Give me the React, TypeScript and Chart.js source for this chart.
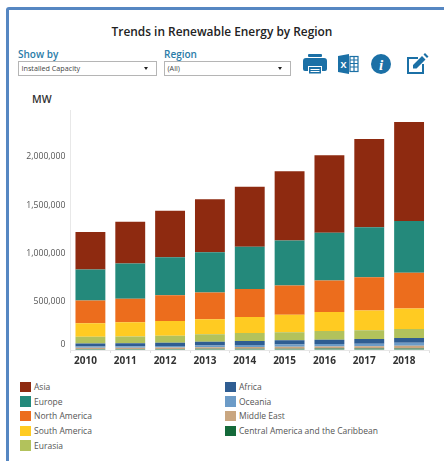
import React, { useEffect, useRef } from "react";
import { Chart, registerables } from "chart.js";

Chart.register(...registerables);

const years = ["2010", "2011", "2012", "2013", "2014", "2015", "2016", "2017", "2018"];
const asia = [390000, 432000, 480000, 550000, 623000, 716000, 802000, 914000, 1025000];
const europe = [321000, 365000, 396000, 417000, 438000, 466000, 494000, 518000, 538000];
const northAmerica = [234000, 245000, 266000, 276000, 290000, 303000, 328000, 346000, 368000];
const southAmerica = [142000, 148000, 152000, 155000, 166000, 183000, 197000, 203000, 214000];
const eurasia = [69000, 69000, 72000, 79000, 83000, 83000, 89000, 90000, 93000];
const africa = [30000, 31000, 34000, 38000, 41000, 43000, 46000, 49000, 50000];
const oceania = [14000, 15000, 16000, 18000, 20000, 23000, 25000, 28000, 31000];
const middleEast = [13000, 14000, 15000, 17000, 18000, 20000, 21000, 23000, 27000];
const centralAmerica = [10000, 10000, 11000, 12000, 13000, 14000, 15000, 15000, 16000];

const yMax = 2484000;
const yTicks = [0, 500000, 1000000, 1500000, 2000000];

const legendColumns = [
  [
    { label: "Asia", color: "#8E2A10", data: asia },
    { label: "Europe", color: "#24897B", data: europe },
    { label: "North America", color: "#EC6D1D", data: northAmerica },
    { label: "South America", color: "#FFCB22", data: southAmerica },
    { label: "Eurasia", color: "#B2C25C", data: eurasia },
  ],
  [
    { label: "Africa", color: "#2F5D92", data: africa },
    { label: "Oceania", color: "#6C9BC7", data: oceania },
    { label: "Middle East", color: "#C9A680", data: middleEast },
    { label: "Central America and the Caribbean", color: "#146A3A", data: centralAmerica },
  ],
];

const FONT = "'Open Sans', sans-serif";
const BLUE = "#1B70A6";

function abs(left: number, top: number, extra: React.CSSProperties = {}): React.CSSProperties {
  return { position: "absolute", left, top, ...extra };
}

function Dropdown({ left, width, text }: { left: number; width: number; text: string }) {
  return (
    <div
      style={abs(left, 61, {
        width,
        height: 15,
        boxSizing: "border-box",
        border: "1px solid #b5b5b5",
        background: "#fff",
        fontSize: 7.2,
        lineHeight: "13px",
        paddingLeft: 2.5,
        color: "#444",
        whiteSpace: "nowrap",
      })}
    >
      {text}
      <div
        style={{
          position: "absolute",
          right: 8,
          top: 5,
          width: 0,
          height: 0,
          borderLeft: "2.5px solid transparent",
          borderRight: "2.5px solid transparent",
          borderTop: "3px solid #222",
        }}
      />
    </div>
  );
}

function Icons() {
  return (
    <svg style={abs(295, 45)} width={145} height={35} viewBox="0 0 145 35">
      <g fill={BLUE}>
        <rect x={13} y={9} width={14} height={3} rx={1} />
        <path d="M11 13 h18 a3 3 0 0 1 3 3 v8 a2 2 0 0 1 -2 2 h-3 v-5 h-14 v5 h-3 a2 2 0 0 1 -2 -2 v-8 a3 3 0 0 1 3 -3 z" />
        <path d="M14 22 h12 v6.5 h-12 z M15.5 24 v1 h9 v-1 z M15.5 26 v1 h9 v-1 z" fillRule="evenodd" />
      </g>
      <path d="M43 11 l11 -2 v20 l-11 -2 z" fill={BLUE} />
      <text x={48.5} y={22.5} fontSize={9} fontWeight={700} fill="#fff" textAnchor="middle" fontFamily={FONT}>X</text>
      <g fill="none" stroke={BLUE} strokeWidth={1.2}>
        <rect x={55} y={11.5} width={8} height={15} />
        <path d="M55 15 h8 M55 18.5 h8 M55 22 h8 M59 11.5 v15" />
      </g>
      <circle cx={86} cy={19} r={10} fill={BLUE} />
      <text x={86} y={25} fontSize={15} fontWeight={700} fontStyle="italic" fill="#fff" textAnchor="middle" fontFamily="'Liberation Serif', serif">i</text>
      <path d="M123 13 H113 V28 H128 V19" fill="none" stroke={BLUE} strokeWidth={2} />
      <path d="M118 20 l9 -9 l3.5 3.5 l-9 9 h-3.5 z M128.5 9.5 l1.5 -1.5 l3.5 3.5 l-1.5 1.5 z" fill={BLUE} />
    </svg>
  );
}

export default function App() {
  const canvasRef = useRef<HTMLCanvasElement | null>(null);

  useEffect(() => {
    const sorted = [
      legendColumns[1][3],
      legendColumns[1][2],
      legendColumns[1][1],
      legendColumns[1][0],
      legendColumns[0][4],
      legendColumns[0][3],
      legendColumns[0][2],
      legendColumns[0][1],
      legendColumns[0][0],
    ];
    const chart = new Chart(canvasRef.current as HTMLCanvasElement, {
      type: "bar",
      data: {
        labels: years,
        datasets: sorted.map((s) => ({
          label: s.label,
          data: s.data,
          backgroundColor: s.color,
          categoryPercentage: 0.75,
          barPercentage: 1,
        })),
      },
      options: {
        responsive: false,
        animation: false,
        layout: { padding: { top: 10, right: 15, left: 0, bottom: 0 } },
        plugins: { legend: { display: false }, title: { display: false }, tooltip: { enabled: false } },
        scales: {
          x: {
            stacked: true,
            afterFit: (s: any) => { s.height = 25; },
            border: { color: "#e8e8e8" },
            grid: { drawOnChartArea: false, color: "#e0e0e0", tickLength: 3 },
            ticks: {
              maxRotation: 0,
              padding: 2,
              labelOffset: -5,
              color: "#333",
              font: { family: FONT, size: 10, weight: "bold" },
            },
          },
          y: {
            stacked: true,
            min: 0,
            max: yMax,
            afterFit: (s: any) => { s.width = 70.5; },
            afterBuildTicks: (s: any) => {
              s.ticks = yTicks.map((value) => ({ value }));
            },
            border: { color: "#e8e8e8" },
            grid: { display: true, drawOnChartArea: false, drawTicks: false },
            ticks: {
              autoSkip: false,
              padding: 5,
              color: "#555",
              font: { family: FONT, size: 8.7 },
              callback: (v: any) => (v === 0 ? ["0", ""] : Number(v).toLocaleString("en-US")),
            },
          },
        },
      },
    });
    return () => chart.destroy();
  }, []);

  return (
    <div style={{ position: "absolute", left: 0, top: 0, width: 444, height: 461, overflow: "hidden", background: "#fff", fontFamily: FONT }}>
      <div
        style={abs(6, 6.5, {
          width: 460,
          height: 480,
          boxSizing: "border-box",
          border: "3.5px solid #5687C2",
          borderRadius: 3,
        })}
      />
      <div style={abs(0, 22, { width: 444, textAlign: "center", fontSize: 11.9, fontWeight: 600, color: "#222", lineHeight: "18px", whiteSpace: "nowrap" })}>
        Trends in Renewable Energy by Region
      </div>
      <div style={abs(18, 47, { fontSize: 10, fontWeight: 600, color: "#2A7CA8", lineHeight: "14px" })}>Show by</div>
      <div style={abs(164, 47, { fontSize: 10, fontWeight: 600, color: "#2A7CA8", lineHeight: "14px" })}>Region</div>
      <Dropdown left={18} width={138.5} text="Installed Capacity" />
      <Dropdown left={164} width={127} text="(All)" />
      <Icons />
      <div style={abs(32, 92, { fontSize: 10.5, fontWeight: 600, color: "#333", lineHeight: "14px" })}>MW</div>
      <canvas ref={canvasRef} width={444} height={275} style={abs(0, 100, { display: "block" })} />
      {legendColumns.map((col, c) => (
        <div key={c}>
          {col.map((item, i) => (
            <div key={item.label}>
              <div style={abs(c === 0 ? 20 : 225, 381.5 + i * 14.7, { width: 10.5, height: 10.5, background: item.color })} />
              <div
                style={abs(c === 0 ? 34 : 239, 379 + i * 14.7, {
                  fontSize: 8.5,
                  lineHeight: "15px",
                  color: "#555",
                  whiteSpace: "nowrap",
                })}
              >
                {item.label}
              </div>
            </div>
          ))}
        </div>
      ))}
    </div>
  );
}
